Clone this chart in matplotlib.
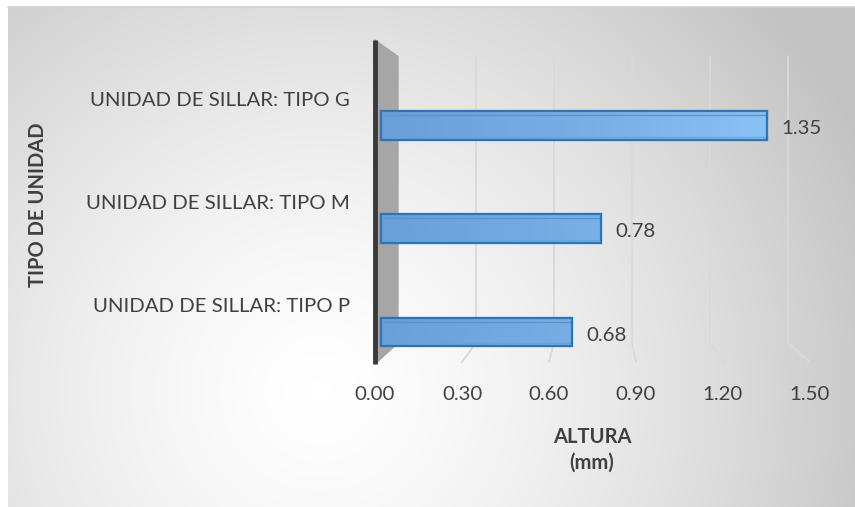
import numpy as np
import matplotlib.pyplot as plt
from matplotlib.colors import LinearSegmentedColormap

# data
categorias = ['UNIDAD DE SILLAR: TIPO P', 'UNIDAD DE SILLAR: TIPO M', 'UNIDAD DE SILLAR: TIPO G']
altura = [0.68, 0.78, 1.35]
ticks_x = [0.00, 0.30, 0.60, 0.90, 1.20, 1.50]

plt.rcParams['font.family'] = ['Lato', 'DejaVu Sans']
txt = '#404040'
fs = 14.7

W, H = 855, 507
fig = plt.figure(figsize=(W / 100, H / 100), dpi=100, facecolor='white')

# background with radial gradient (gray edges, white centre)
bg = fig.add_axes([8 / W, 0, 1 - 8 / W, 1 - 7 / H])
bg.set_axis_off()
yy, xx = np.mgrid[7:H, 8:W]
r = np.sqrt((xx - 320.0) ** 2 + (yy - 390.0) ** 2) / 600.0
r = np.clip(r, 0, 1) ** 1.4
cmap_bg = LinearSegmentedColormap.from_list('bg', ['#ffffff', '#c2c2c2'])
bg.imshow(r, cmap=cmap_bg, vmin=0, vmax=1, aspect='auto', interpolation='bilinear')
# thin light border line at the top
fig.add_artist(plt.Line2D([8 / W, 1], [1 - 7 / H] * 2, color='#d0d0d0', lw=1.2))

# main plot area (front plane: 0 at x=375px, 1.5 at x=810px)
ax = fig.add_axes([375 / W, (H - 364) / H, 435 / W, 324 / H])
ax.patch.set_alpha(0)
ax.set_xlim(0, 1.5)
ax.set_ylim(-0.31, 2.83)
for s in ax.spines.values():
    s.set_visible(False)

# back-wall gridlines with perspective floor segment
y_top, y_floor, y_front = 2.67, -0.107, -0.29
for v in ticks_x[1:]:
    xb = 0.0793 + 0.8966 * v
    ax.plot([xb, xb, v], [y_top, y_floor, y_front], color='#d9d9d9', lw=1.3,
            zorder=1, clip_on=False, solid_joinstyle='miter')

# left side wall
ax.fill([0, 0.0793, 0.0793, 0], [2.83, y_top, y_floor, -0.31],
        color='#a6a6a6', zorder=2, clip_on=False)
ax.plot([0, 0], [2.83, -0.31], color='#3a3a3a', lw=3.5, zorder=3,
        solid_capstyle='butt', clip_on=False)

# bars (start just right of the wall, end at the value)
y = np.arange(len(categorias))
bar_h = 0.28
x0 = 0.02
widths = [v - x0 for v in altura]
cmap_bar = LinearSegmentedColormap.from_list('bar', ['#6a9fd8', '#78b0e6', '#8fc6f7'])
bars = ax.barh(y, widths, left=x0, height=bar_h, color='#74aade', edgecolor='#2e75b6',
               linewidth=1.5, zorder=4)
grad = np.linspace(0, 1, 256).reshape(1, -1)
for b, v in zip(bars, altura):
    im = ax.imshow(grad, cmap=cmap_bar, vmin=0, vmax=1.5 / v,
                   extent=[x0, v, b.get_y(), b.get_y() + bar_h], aspect='auto', zorder=4.5)
    im.set_clip_path(b)
    # subtle inner edges for a 3d look
    ax.plot([x0 + 0.01, v], [b.get_y() + bar_h * 0.86] * 2, color='#5a94d0', lw=1.0, zorder=5)
    ax.plot([x0 + 0.01, v], [b.get_y() + bar_h * 0.12] * 2, color='#6aa2da', lw=0.9, zorder=5)
ax.barh(y, widths, left=x0, height=bar_h, color='none', edgecolor='#2e75b6',
        linewidth=1.6, zorder=6)

# value labels
for yi, v in zip(y, altura):
    ax.text(v + 0.05, yi - 0.03, f'{v:.2f}', va='center', ha='left',
            fontsize=fs, color=txt, zorder=7)

# ticks
ax.set_xticks(ticks_x, [f'{t:.2f}' for t in ticks_x])
ax.set_yticks(y + 0.26, categorias)
ax.tick_params(axis='x', length=0, pad=16, labelsize=fs, labelcolor=txt)
ax.tick_params(axis='y', length=0, pad=18, labelsize=fs, labelcolor=txt)

# axis titles
fig.text(592 / W, 1 - 437 / H, 'ALTURA', ha='center', va='center',
         fontsize=14.5, fontweight='bold', color=txt)
fig.text(592 / W, 1 - 463 / H, '(mm)', ha='center', va='center',
         fontsize=14.5, fontweight='bold', color=txt)
fig.text(38 / W, 1 - 205 / H, 'TIPO DE UNIDAD', ha='center', va='center',
         rotation=90, fontsize=14.5, fontweight='bold', color=txt)

fig.savefig('out.png', dpi=100, facecolor='white')
